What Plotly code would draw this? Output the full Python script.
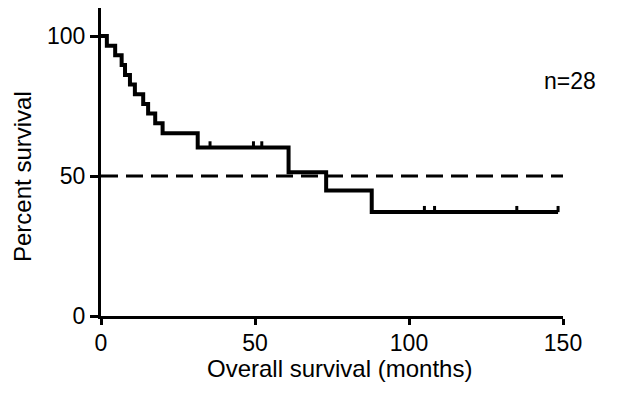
import plotly.graph_objects as go

# Kaplan-Meier step data (months, percent survival)
event_times = [0, 1.9, 4.6, 6.7, 7.8, 9.4, 11.0, 13.7, 15.3, 17.6, 20.0, 31.4, 60.9, 73.1, 87.9, 148.4]
survival = [100, 96.5, 93.1, 89.6, 86.1, 82.7, 79.2, 75.7, 72.3, 68.8, 65.3, 60.2, 51.3, 44.8, 37.1, 37.1]
censor_times = [35.4, 49.5, 52.2, 105.0, 108.3, 135.0, 148.4]
censor_surv = [60.2, 60.2, 60.2, 37.1, 37.1, 37.1, 37.1]
median_line = 50
x_ticks = [0, 50, 100, 150]
y_ticks = [0, 50, 100]

FONT = "Arial, Liberation Sans, sans-serif"

# page body has an 8px margin: figure drawn at (8,8)
OFF = 8
W, H = 636 - OFF, 393 - OFF
l, r, t, b = 101 - OFF, 73, 8 - OFF, 77
pw, ph = W - l - r, H - t - b


def px_x(x):  # page pixel -> paper x
    return (x - OFF - l) / pw


def px_y(y):  # page pixel -> paper y
    return (H - b - (y - OFF)) / ph


fig = go.Figure()
fig.add_trace(go.Scatter(x=event_times, y=survival, mode="lines", line_shape="hv",
                         line=dict(color="black", width=4), showlegend=False))
cx, cy = [], []
for tt, s in zip(censor_times, censor_surv):
    cx += [tt, tt, None]
    cy += [s, s + 2.2, None]
fig.add_trace(go.Scatter(x=cx, y=cy, mode="lines", line=dict(color="black", width=3),
                         showlegend=False))
fig.add_trace(go.Scatter(x=[0, 150], y=[median_line, median_line], mode="lines",
                         line=dict(color="black", width=3, dash="17px,8px"), showlegend=False))

fig.update_layout(
    width=W, height=H,
    margin=dict(l=l, r=r, t=t, b=b, pad=0),
    paper_bgcolor="white", plot_bgcolor="white",
    font=dict(family=FONT, size=23, color="black"),
    xaxis=dict(range=[0, 150], tickvals=x_ticks, showline=True, linecolor="black", linewidth=3,
               ticks="outside", ticklen=6, tickwidth=3, tickcolor="black", showgrid=False,
               zeroline=False, tickfont=dict(size=23), ticklabelstandoff=-2),
    yaxis=dict(range=[0, 110], tickvals=y_ticks, showline=True, linecolor="black", linewidth=3,
               ticks="outside", ticklen=8, tickwidth=3, tickcolor="black", showgrid=False,
               zeroline=False, tickfont=dict(size=23)),
    annotations=[
        dict(text="Overall survival (months)", x=px_x(339), y=px_y(368), xref="paper",
             yref="paper", xanchor="center", yanchor="middle", showarrow=False,
             font=dict(size=24)),
        dict(text="Percent survival", x=px_x(22), y=px_y(177), xref="paper", yref="paper",
             xanchor="center", yanchor="middle", showarrow=False, textangle=-90,
             font=dict(size=24)),
        dict(text="n=28", x=px_x(570), y=px_y(81), xref="paper", yref="paper",
             xanchor="center", yanchor="middle", showarrow=False, font=dict(size=23)),
    ],
)

fig.write_html("out.html")
